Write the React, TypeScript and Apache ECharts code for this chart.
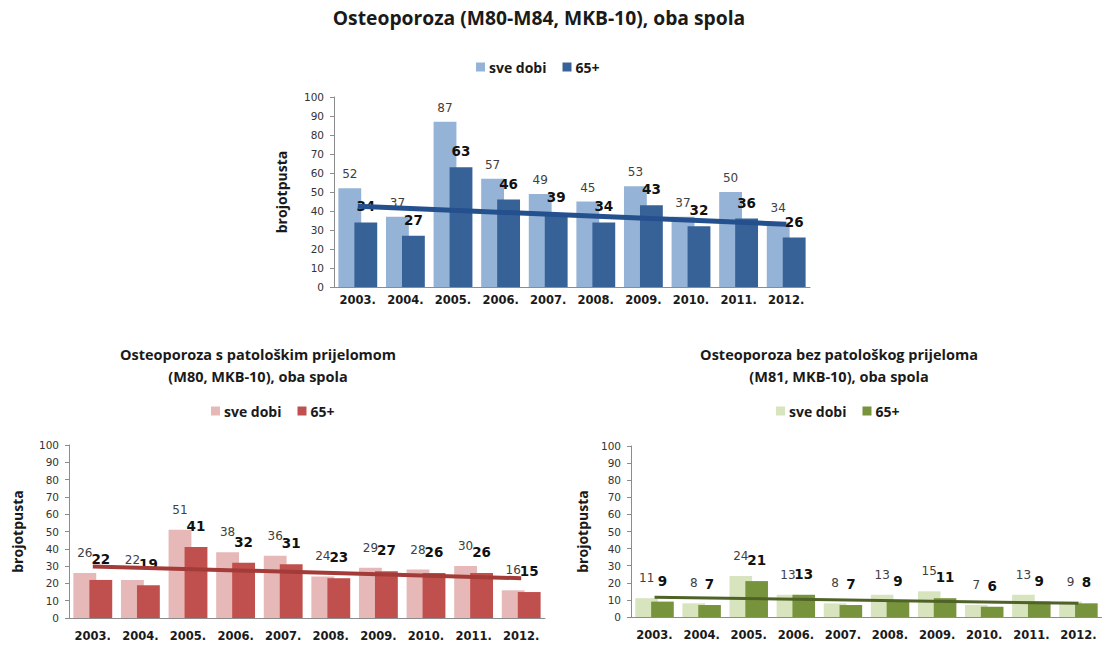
import React, { useEffect, useRef } from "react";
import * as echarts from "echarts";

const years = ["2003.", "2004.", "2005.", "2006.", "2007.", "2008.", "2009.", "2010.", "2011.", "2012."];

// Osteoporoza (M80-M84)
const totalAll = [52, 37, 87, 57, 49, 45, 53, 37, 50, 34];
const total65 = [34, 27, 63, 46, 39, 34, 43, 32, 36, 26];
const totalTrend = [42.5, 33];

// s patološkim prijelomom (M80)
const fracAll = [26, 22, 51, 38, 36, 24, 29, 28, 30, 16];
const frac65 = [22, 19, 41, 32, 31, 23, 27, 26, 26, 15];
const fracTrend = [29.8, 23];

// bez patološkog prijeloma (M81)
const noFracAll = [11, 8, 24, 13, 8, 13, 15, 7, 13, 9];
const noFrac65 = [9, 7, 21, 13, 7, 9, 11, 6, 9, 8];
const noFracTrend = [11.6, 8];

const FONT = "'Open Sans', Lato, sans-serif";
const NUMFONT = "'DejaVu Sans', 'Open Sans', sans-serif";

const panels = [
  {
    title: ["Osteoporoza (M80-M84, MKB-10), oba spola"],
    all: totalAll, old: total65, trend: totalTrend,
    light: "#95B3D7", dark: "#376298", trendColor: "#24508E", trendWidth: 5,
    grid: { left: 334, top: 97, width: 476, height: 190 },
    titleX: 539, titleY: 17, titleSize: 19.3,
    legend: { left: 471, top: 55 },
    xMargin: 7, nameGap: 46, lightDist: 8, darkDist: 9,
  },
  {
    title: ["Osteoporoza s patološkim prijelomom", "(M80, MKB-10), oba spola"],
    all: fracAll, old: frac65, trend: fracTrend,
    light: "#E6B9B8", dark: "#C0504D", trendColor: "#A33B38", trendWidth: 4,
    grid: { left: 69, top: 445, width: 476, height: 173 },
    titleX: 258, titleY: 354, titleSize: 14.5,
    legend: { left: 206, top: 399 },
    xMargin: 12, nameGap: 45, lightDist: 14, darkDist: 14,
  },
  {
    title: ["Osteoporoza bez patološkog prijeloma", "(M81, MKB-10), oba spola"],
    all: noFracAll, old: noFrac65, trend: noFracTrend,
    light: "#D7E4BD", dark: "#77933C", trendColor: "#4F6228", trendWidth: 3,
    grid: { left: 631, top: 446, width: 471, height: 171 },
    titleX: 839, titleY: 354, titleSize: 14.5,
    legend: { left: 771, top: 399 },
    xMargin: 12, nameGap: 42, lightDist: 14, darkDist: 14,
  },
];

function buildOption() {
  const grid: any[] = [];
  const xAxis: any[] = [];
  const yAxis: any[] = [];
  const series: any[] = [];
  const legend: any[] = [];
  const graphic: any[] = [];

  panels.forEach((p, i) => {
    grid.push({ ...p.grid, containLabel: false });
    xAxis.push({
      type: "category",
      gridIndex: i,
      data: years,
      axisLine: { lineStyle: { color: "#8C8C8C", width: 1 } },
      axisTick: { show: false },
      axisLabel: { margin: p.xMargin, fontFamily: NUMFONT, fontWeight: "bold", fontSize: 11.5, color: "#1A1A1A", interval: 0 },
    });
    yAxis.push({
      type: "value",
      gridIndex: i,
      min: 0,
      max: 100,
      interval: 10,
      splitLine: { show: false },
      axisLine: { show: true, lineStyle: { color: "#8C8C8C", width: 1 } },
      axisTick: { show: true, length: 4, lineStyle: { color: "#8C8C8C" } },
      axisLabel: { fontFamily: NUMFONT, fontSize: 10.5, color: "#333333", margin: 10 },
      name: "brojotpusta",
      nameLocation: "middle",
      nameRotate: 90,
      nameGap: p.nameGap,
      nameTextStyle: { fontFamily: FONT, fontWeight: "bold", fontSize: 14, color: "#1A1A1A" },
    });
    series.push({
      type: "bar",
      name: "sve dobi",
      xAxisIndex: i,
      yAxisIndex: i,
      data: p.all,
      barWidth: "48%",
      barGap: "-30%",
      itemStyle: { color: p.light },
      label: { show: true, position: "top", distance: p.lightDist, fontFamily: NUMFONT, fontSize: 12, color: "#404040" },
      z: 2,
    });
    series.push({
      type: "bar",
      name: "65+",
      xAxisIndex: i,
      yAxisIndex: i,
      data: p.old,
      barWidth: "48%",
      barGap: "-30%",
      itemStyle: { color: p.dark },
      label: { show: true, position: "top", distance: p.darkDist, fontFamily: NUMFONT, fontSize: 13.5, fontWeight: "bold", color: "#111111" },
      z: 3,
    });
    series.push({
      type: "line",
      name: "trend " + i,
      xAxisIndex: i,
      yAxisIndex: i,
      data: [[years[0], p.trend[0]], [years[years.length - 1], p.trend[1]]],
      symbol: "none",
      lineStyle: { color: p.trendColor, width: p.trendWidth },
      z: 4,
      silent: true,
    });
    legend.push({
      ...p.legend,
      orient: "horizontal",
      itemWidth: 9,
      itemHeight: 9,
      itemGap: 16,
      icon: "rect",
      textStyle: { fontFamily: FONT, fontSize: 14, fontWeight: "bold", color: "#1A1A1A", padding: [0, 0, 0, -1] },
      data: [
        { name: "sve dobi", itemStyle: { color: p.light } },
        { name: "65+", itemStyle: { color: p.dark } },
      ],
      selectedMode: false,
    });
    p.title.forEach((line, k) => {
      graphic.push({
        type: "text",
        x: p.titleX,
        y: p.titleY + k * 22,
        style: {
          text: line,
          fill: "#1A1A1A",
          font: `bold ${p.titleSize}px ${FONT}`,
          textAlign: "center",
          textVerticalAlign: "middle",
        },
      });
    });
  });

  return {
    animation: false,
    backgroundColor: "#FFFFFF",
    grid,
    xAxis,
    yAxis,
    series,
    legend,
    graphic,
  };
}

export default function App() {
  const ref = useRef<HTMLDivElement>(null);
  useEffect(() => {
    if (!ref.current) return;
    const chart = echarts.init(ref.current, undefined, { renderer: "svg" });
    chart.setOption(buildOption());
    return () => chart.dispose();
  }, []);
  return (
    <div
      ref={ref}
      style={{ position: "fixed", left: 0, top: 0, width: 1102, height: 650, background: "#fff" }}
    />
  );
}
